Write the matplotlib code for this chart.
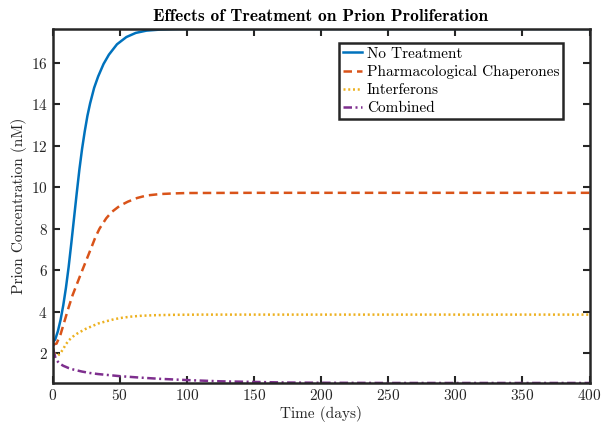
import matplotlib
matplotlib.use("Agg")
import matplotlib.pyplot as plt

# Prion concentration (nM) over time (days) for each treatment
days_none = [0, 2, 4, 6, 8, 10, 12, 14, 16, 18, 20, 22, 24, 26, 28, 31, 34, 38,
             42, 48, 55, 62, 70, 80, 90, 100, 150, 200, 250, 300, 350, 400]
conc_none = [2.5, 2.65, 3.05, 3.6, 4.3, 5.15, 6.15, 7.3, 8.5, 9.7, 10.85, 11.85,
             12.7, 13.45, 14.05, 14.8, 15.35, 15.95, 16.4, 16.9, 17.25, 17.45,
             17.56, 17.61, 17.63, 17.64, 17.64, 17.64, 17.64, 17.64, 17.64, 17.64]

days_chap = [0, 3, 6, 9, 12, 15, 18, 21, 25, 29, 32, 35, 40, 44, 50, 56, 63,
             70, 80, 90, 100, 150, 200, 250, 300, 350, 400]
conc_chap = [2.4, 2.45, 2.9, 3.55, 4.2, 4.8, 5.3, 5.8, 6.45, 7.1, 7.6, 8.0, 8.5,
             8.8, 9.1, 9.3, 9.48, 9.6, 9.67, 9.7, 9.72, 9.73, 9.73, 9.73, 9.73,
             9.73, 9.73]

days_ifn = [0, 1, 2, 4, 6, 8, 10, 12, 15, 18, 21, 25, 29, 34, 40, 46, 52, 58,
            65, 75, 90, 110, 150, 200, 250, 300, 350, 400]
conc_ifn = [2.45, 2.1, 1.95, 1.87, 2.0, 2.2, 2.42, 2.6, 2.78, 2.92, 3.03, 3.17,
            3.28, 3.42, 3.53, 3.63, 3.7, 3.75, 3.79, 3.82, 3.84, 3.85, 3.85,
            3.85, 3.85, 3.85, 3.85, 3.85]

days_comb = [0, 0.5, 1, 2, 3, 5, 8, 12, 16, 22, 28, 34, 42, 50, 65, 80, 100,
             125, 150, 175, 200, 250, 300, 350, 400]
conc_comb = [3.0, 2.4, 2.05, 1.8, 1.65, 1.5, 1.38, 1.27, 1.19, 1.1, 1.03, 0.98,
             0.93, 0.88, 0.81, 0.75, 0.69, 0.63, 0.6, 0.57, 0.56, 0.55, 0.55,
             0.55, 0.55]

labels = ["No Treatment", "Pharmacological Chaperones", "Interferons", "Combined"]

plt.rcParams["font.family"] = "serif"
plt.rcParams["font.serif"] = ["cmr10"]
plt.rcParams["axes.formatter.use_mathtext"] = True
plt.rcParams["axes.unicode_minus"] = False

fig = plt.figure(figsize=(6.01, 4.26), dpi=100)
ax = fig.add_axes([0.0874, 0.101, 0.8936, 0.831])

lw = 1.8
ax.plot(days_none, conc_none, color="#0072BD", lw=lw, ls="-", label=labels[0])
ax.plot(days_chap, conc_chap, color="#D95319", lw=lw, ls=(0, (3.4, 2.0)), label=labels[1])
ax.plot(days_ifn, conc_ifn, color="#EDB120", lw=lw, ls=(0, (0.8, 1.1)), label=labels[2])
ax.plot(days_comb, conc_comb, color="#7E2F8E", lw=lw, ls=(0, (3.4, 1.4, 0.8, 1.4)), label=labels[3])

# tight limits, as in a MATLAB "axis tight"
all_conc = conc_none + conc_chap + conc_ifn + conc_comb
ax.set_xlim(0, 400)
ax.set_ylim(min(all_conc), max(all_conc))
ax.set_xticks(range(0, 401, 50))
ax.set_yticks(range(2, 17, 2))

for s in ax.spines.values():
    s.set_linewidth(1.8)
    s.set_color("#262626")
ax.tick_params(direction="in", top=True, right=True, length=5, width=1.5,
               color="#262626", labelcolor="#262626", labelsize=11)

ax.set_xlabel("Time (days)", fontsize=11, color="#262626", labelpad=2)
ax.set_ylabel("Prion Concentration (nM)", fontsize=11, color="#262626", labelpad=3)
ax.set_title("Effects of Treatment on Prion Proliferation", fontsize=12.5,
             fontfamily="cmb10", color="#000000", pad=6)

leg = ax.legend(loc="upper right", bbox_to_anchor=(0.951, 0.96), borderaxespad=0,
                fontsize=11, handlelength=1.25, handletextpad=0.3,
                labelspacing=0.28, borderpad=0.25, fancybox=False, framealpha=1)
leg.get_frame().set_edgecolor("#262626")
leg.get_frame().set_linewidth(1.8)

fig.savefig("out.png", dpi=100)
